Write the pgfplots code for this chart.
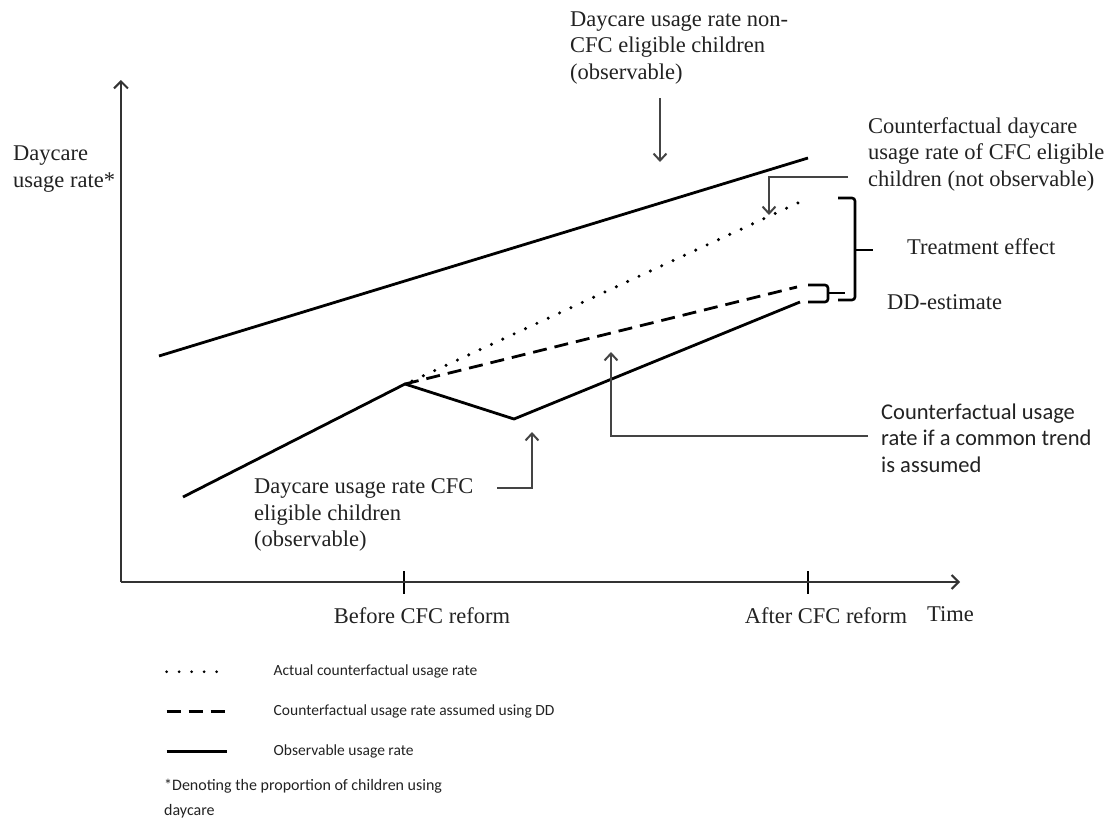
\documentclass[border=0pt]{standalone}
\usepackage{fontspec}
\setmainfont{Liberation Serif}
\newfontfamily\calibri{Carlito}
\usepackage{pgfplots}
\pgfplotsset{compat=1.18}
\usetikzlibrary{arrows.meta}
\definecolor{txt}{HTML}{222222}
\definecolor{ptr}{HTML}{444444}
\begin{document}
\begin{tikzpicture}
\begin{axis}[
  scale only axis, width=839pt, height=502pt,
  xmin=121, xmax=960, ymin=238, ymax=740,
  axis lines*=left,
  axis line style={draw=black!80, line width=1.6pt},
  x axis line style={-{Straight Barb[length=7pt,width=14pt,line width=2pt]}},
  y axis line style={-{Straight Barb[length=7pt,width=14pt,line width=2pt]}},
  xtick={404,808}, xticklabels={Before CFC reform, After CFC reform},
  ytick=\empty,
  tick align=center, major tick length=23pt,
  x tick style={black, line width=2.3pt},
  xticklabel style={font=\fontsize{22.5}{26}\selectfont, text=txt, anchor=north, yshift=-11pt, xshift=18pt},
  clip=false,
  legend cell align=left,
  legend style={draw=none, fill=none, inner sep=0pt, at={(axis cs:165,156)}, anchor=north west,
    font=\calibri\fontsize{15.5}{19}\selectfont, text=txt, row sep=25pt,
    nodes={inner sep=0pt, text height=11pt, text depth=4pt}},
  legend image code/.code={\draw[#1] (0pt,0pt) -- (60pt,0pt); \path[draw=none] (0pt,0pt) -- (107pt,0pt);},
]
% bounding box of the whole picture
\path (axis cs:0,0) rectangle (axis cs:1114,820);

% data lines
\addplot[forget plot, black, line width=2.8pt] coordinates {(159,464) (808,662)};
\addplot[forget plot, black, line width=2.8pt, line join=miter] coordinates {(183,323) (405,436) (514,401) (800,518)};
\addplot[forget plot, black, line width=3.4pt, line cap=round, dash pattern=on 0pt off 12.5pt] coordinates {(412,439) (800,618)};
\addplot[forget plot, black, line width=2.8pt, dash pattern=on 14pt off 8pt] coordinates {(405,436) (797,533)};

% legend
\addlegendimage{black, line width=3pt, line cap=round, dash pattern=on 0pt off 12.5pt}
\addlegendentry{Actual counterfactual usage rate}
\addlegendimage{black, line width=3pt, dash pattern=on 14pt off 8pt}
\addlegendentry{Counterfactual usage rate assumed using DD}
\addlegendimage{black, line width=3pt}
\addlegendentry{Observable usage rate}

% brackets
\draw[black, line width=2.6pt, rounded corners=3pt] (axis cs:808,535) -- (axis cs:828,535) -- (axis cs:828,518) -- (axis cs:808,518);
\draw[black, line width=2.6pt] (axis cs:828,527) -- (axis cs:845,527);
\draw[black, line width=2.6pt, rounded corners=3pt] (axis cs:838,622) -- (axis cs:855,622) -- (axis cs:855,520) -- (axis cs:838,520);
\draw[black, line width=2.6pt] (axis cs:855,570) -- (axis cs:873,570);

% pointer arrows
\draw[ptr, line width=1.3pt, -{Straight Barb[length=7pt,width=13pt,line width=2pt]}] (axis cs:660,722) -- (axis cs:660,658);
\draw[ptr, line width=1.3pt, -{Straight Barb[length=7pt,width=13pt,line width=2pt]}] (axis cs:848,643) -- (axis cs:769,643) -- (axis cs:769,605);
\draw[ptr, line width=1.3pt, -{Straight Barb[length=7pt,width=13pt,line width=2pt]}] (axis cs:868,384) -- (axis cs:611,384) -- (axis cs:611,468);
\draw[ptr, line width=1.3pt, -{Straight Barb[length=7pt,width=13pt,line width=2pt]}] (axis cs:497,332) -- (axis cs:532,332) -- (axis cs:532,388);

% texts
\begin{scope}[every node/.style={text=txt, inner sep=0pt, align=left, font=\fontsize{22.5}{26.5}\selectfont}]
\node[anchor=west] at (axis cs:13,651) {Daycare\\usage rate*};
\node[anchor=west] at (axis cs:570,772) {Daycare usage rate non-\\CFC eligible children\\(observable)};
\node[anchor=west] at (axis cs:868,666) {Counterfactual daycare\\usage rate of CFC eligible\\children (not observable)};
\node[anchor=west] at (axis cs:907,573) {Treatment effect};
\node[anchor=west] at (axis cs:887,518) {DD-estimate};
\node[anchor=west] at (axis cs:254,305) {Daycare usage rate CFC\\eligible children\\(observable)};
\node[anchor=west] at (axis cs:927,206) {Time};
\node[anchor=west, font=\calibri\fontsize{22.5}{26.5}\selectfont] at (axis cs:881,382) {Counterfactual usage\\rate if a common trend\\is assumed};
\node[anchor=west, font=\calibri\fontsize{16}{25}\selectfont] at (axis cs:164,21) {*Denoting the proportion of children using\\daycare};
\end{scope}
\end{axis}
\end{tikzpicture}
\end{document}
